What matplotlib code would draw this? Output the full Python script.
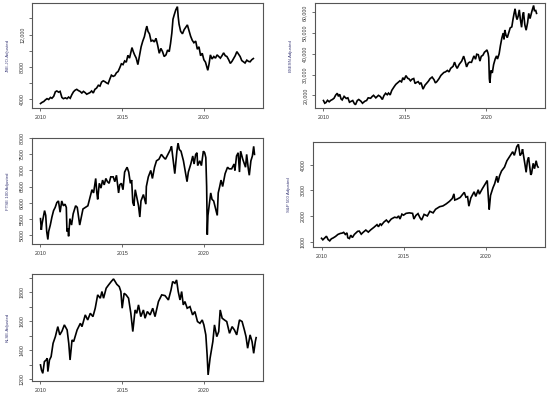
import matplotlib
matplotlib.use("Agg")
import matplotlib.pyplot as plt

plt.rcParams['font.family'] = ['Liberation Sans', 'DejaVu Sans']

# ---------------- data (decimal year, adjusted close) ----------------
jse = [(2010.00, 3500),(2010.10, 3650),(2010.20, 3750),(2010.30, 3950),(2010.40, 4100),(2010.50, 4000),
       (2010.61, 4250),(2010.70, 4150),(2010.81, 4400),(2010.91, 4950),(2011.00, 5050),(2011.11, 4900),
       (2011.20, 5000),(2011.31, 4250),(2011.40, 4100),(2011.52, 4200),(2011.62, 4100),(2011.72, 4300),
       (2011.82, 4150),(2011.92, 4600),(2012.02, 4950),(2012.12, 5150),(2012.22, 5250),(2012.32, 5100),
       (2012.42, 5000),(2012.53, 4800),(2012.63, 5000),(2012.73, 4850),(2012.83, 4650),(2012.93, 4750),
       (2013.03, 4850),(2013.13, 5050),(2013.23, 4800),(2013.33, 5250),(2013.43, 5400),(2013.54, 5750),
       (2013.64, 5650),(2013.74, 6150),(2013.84, 6300),(2013.94, 6200),(2014.04, 6050),(2014.14, 5950),
       (2014.24, 6500),(2014.34, 7000),(2014.45, 6850),(2014.55, 6950),(2014.65, 7300),(2014.75, 7450),
       (2014.85, 7900),(2014.95, 8400),(2015.05, 8300),(2015.15, 8750),(2015.25, 8600),(2015.35, 9450),
       (2015.45, 9100),(2015.52, 9700),(2015.60, 10400),(2015.68, 9900),(2015.76, 9500),(2015.86, 9100),
       (2015.96, 8300),(2016.06, 9400),(2016.16, 10500),(2016.26, 11200),(2016.36, 11750),(2016.45, 12600),
       (2016.51, 13050),(2016.58, 12400),(2016.67, 12100),(2016.77, 11200),(2016.87, 11300),(2016.97, 11100),
       (2017.07, 11550),(2017.17, 10700),(2017.27, 9700),(2017.37, 10300),(2017.47, 9900),(2017.57, 9300),
       (2017.68, 9500),(2017.78, 10100),(2017.88, 9900),(2017.96, 10900),(2018.04, 12200),(2018.11, 13900),
       (2018.18, 14400),(2018.28, 15050),(2018.38, 15450),(2018.43, 14200),(2018.48, 13300),(2018.58, 12400),
       (2018.69, 12100),(2018.79, 12600),(2018.89, 12900),(2018.99, 13200),(2019.09, 12500),(2019.19, 11800),
       (2019.29, 11300),(2019.39, 11000),(2019.50, 11200),(2019.60, 10200),(2019.70, 10500),(2019.80, 9400),
       (2019.90, 9700),(2020.00, 8900),(2020.10, 8600),(2020.18, 8000),(2020.24, 7600),(2020.32, 8400),
       (2020.40, 9500),(2020.50, 9000),(2020.61, 9300),(2020.71, 9100),(2020.81, 9500),(2020.91, 9300),
       (2021.01, 9100),(2021.11, 9400),(2021.21, 9750),(2021.31, 9400),(2021.41, 9300),(2021.52, 8900),
       (2021.62, 8450),(2021.72, 8700),(2021.82, 9050),(2021.92, 9400),(2022.02, 9900),(2022.12, 9600),
       (2022.22, 9300),(2022.32, 8800),(2022.42, 8650),(2022.52, 8500),(2022.63, 8850),(2022.73, 8700),
       (2022.83, 8650),(2022.93, 8900),(2023.03, 9050)]

bse = [(2010.00, 17500),(2010.08, 16200),(2010.15, 16500),(2010.25, 17600),(2010.35, 16900),(2010.45, 17600),
       (2010.55, 18000),(2010.65, 18600),(2010.75, 20100),(2010.85, 21000),(2010.92, 19500),(2011.00, 20500),
       (2011.08, 18300),(2011.15, 17800),(2011.27, 19500),(2011.40, 18500),(2011.50, 18800),(2011.60, 16700),
       (2011.70, 17100),(2011.80, 17500),(2011.90, 16000),(2011.97, 15500),(2012.08, 17500),(2012.17, 18000),
       (2012.30, 17200),(2012.40, 16200),(2012.55, 17200),(2012.65, 17500),(2012.75, 18800),(2012.90, 18600),
       (2013.00, 19500),(2013.08, 20000),(2013.22, 18800),(2013.38, 20000),(2013.50, 19400),(2013.62, 18000),
       (2013.72, 19900),(2013.82, 21000),(2013.92, 20300),(2014.00, 21100),(2014.10, 20200),(2014.20, 22400),
       (2014.35, 24200),(2014.45, 25300),(2014.55, 26000),(2014.70, 27000),(2014.80, 26500),(2014.88, 28500),
       (2014.96, 27500),(2015.07, 29500),(2015.18, 28200),(2015.25, 28000),(2015.35, 27000),(2015.45, 27800),
       (2015.55, 28100),(2015.63, 25700),(2015.72, 26200),(2015.82, 26600),(2015.92, 25500),(2016.00, 26100),
       (2016.12, 23000),(2016.25, 25000),(2016.32, 25600),(2016.45, 26800),(2016.55, 28000),(2016.68, 28800),
       (2016.80, 27500),(2016.88, 26000),(2016.97, 26600),(2017.10, 28000),(2017.22, 29600),(2017.40, 31000),
       (2017.50, 31300),(2017.62, 32000),(2017.72, 31300),(2017.82, 33000),(2017.97, 34000),(2018.06, 36000),
       (2018.15, 34000),(2018.22, 33000),(2018.35, 35000),(2018.50, 36500),(2018.62, 38900),(2018.70, 36800),
       (2018.80, 33700),(2018.90, 35500),(2018.98, 36000),(2019.10, 35900),(2019.25, 39000),(2019.35, 37400),
       (2019.42, 39800),(2019.52, 39600),(2019.62, 36500),(2019.70, 38800),(2019.80, 39300),(2019.90, 40800),
       (2019.98, 41300),(2020.05, 41900),(2020.12, 40200),(2020.16, 38300),(2020.20, 28000),(2020.23, 26000),
       (2020.30, 32000),(2020.38, 30800),(2020.46, 34800),(2020.56, 37600),(2020.64, 39000),(2020.70, 37500),
       (2020.80, 40000),(2020.88, 44000),(2020.97, 47700),(2021.05, 50000),(2021.10, 47000),(2021.15, 51500),
       (2021.22, 49000),(2021.30, 47800),(2021.40, 50500),(2021.48, 52500),(2021.58, 53000),(2021.65, 56500),
       (2021.72, 59500),(2021.78, 61700),(2021.85, 58000),(2021.90, 56500),(2021.97, 58200),(2022.04, 61200),
       (2022.10, 57000),(2022.18, 52800),(2022.25, 58500),(2022.30, 60000),(2022.38, 54000),(2022.46, 51400),
       (2022.55, 55000),(2022.62, 59500),(2022.70, 57000),(2022.75, 58500),(2022.82, 60700),(2022.92, 63300),
       (2022.97, 60800),(2023.05, 60900),(2023.10, 59500)]

ftse = [(2010.00, 5500),(2010.05, 5150),(2010.10, 5350),(2010.25, 5750),(2010.32, 5600),(2010.38, 5100),
        (2010.45, 4850),(2010.50, 5100),(2010.60, 5300),(2010.70, 5550),(2010.80, 5750),(2010.90, 5850),
        (2011.00, 6000),(2011.10, 6050),(2011.20, 5700),(2011.30, 6050),(2011.40, 5900),(2011.50, 5950),
        (2011.58, 5850),(2011.62, 5100),(2011.68, 5200),(2011.72, 4950),(2011.80, 5500),(2011.90, 5300),
        (2012.00, 5650),(2012.15, 5900),(2012.25, 5850),(2012.40, 5300),(2012.50, 5550),(2012.60, 5800),
        (2012.75, 5850),(2012.90, 5900),(2013.00, 6100),(2013.15, 6400),(2013.25, 6300),(2013.38, 6750),
        (2013.45, 6300),(2013.50, 6100),(2013.60, 6600),(2013.70, 6450),(2013.80, 6700),(2013.90, 6550),
        (2014.00, 6750),(2014.10, 6650),(2014.20, 6600),(2014.30, 6800),(2014.45, 6800),(2014.55, 6650),
        (2014.65, 6850),(2014.78, 6300),(2014.85, 6550),(2014.95, 6600),(2015.05, 6400),(2015.15, 6950),
        (2015.30, 7100),(2015.40, 6950),(2015.50, 6600),(2015.58, 6700),(2015.65, 6000),(2015.72, 5900),
        (2015.80, 6400),(2015.92, 6100),(2016.00, 5900),(2016.08, 5550),(2016.15, 6050),(2016.30, 6250),
        (2016.45, 5950),(2016.48, 6500),(2016.60, 6800),(2016.75, 7000),(2016.85, 6750),(2016.98, 7100),
        (2017.10, 7300),(2017.25, 7350),(2017.40, 7500),(2017.55, 7400),(2017.65, 7350),(2017.80, 7500),
        (2017.95, 7650),(2018.02, 7750),(2018.15, 7200),(2018.22, 6900),(2018.35, 7600),(2018.42, 7850),
        (2018.50, 7650),(2018.60, 7600),(2018.75, 7300),(2018.85, 7000),(2018.97, 6650),(2019.05, 6950),
        (2019.20, 7200),(2019.32, 7450),(2019.40, 7200),(2019.50, 7500),(2019.58, 7550),(2019.62, 7150),
        (2019.75, 7300),(2019.85, 7150),(2019.97, 7600),(2020.05, 7550),(2020.12, 7400),(2020.17, 6500),
        (2020.21, 5000),(2020.25, 5600),(2020.30, 5800),(2020.42, 6300),(2020.50, 6100),(2020.60, 6050),
        (2020.72, 5800),(2020.82, 5600),(2020.88, 6300),(2020.97, 6500),(2021.05, 6700),(2021.15, 6500),
        (2021.30, 6900),(2021.45, 7100),(2021.55, 7050),(2021.70, 7050),(2021.85, 7200),(2021.90, 7000),
        (2022.00, 7450),(2022.10, 7550),(2022.18, 6950),(2022.25, 7600),(2022.38, 7350),(2022.48, 7200),
        (2022.55, 7100),(2022.62, 7500),(2022.72, 7050),(2022.78, 6850),(2022.88, 7300),(2022.97, 7450),
        (2023.05, 7750),(2023.10, 7500)]

sp500 = [(2010.00, 1130),(2010.08, 1070),(2010.30, 1210),(2010.40, 1080),(2010.50, 1030),(2010.60, 1110),
         (2010.70, 1140),(2010.85, 1200),(2011.00, 1280),(2011.15, 1320),(2011.25, 1330),(2011.35, 1360),
         (2011.45, 1280),(2011.55, 1340),(2011.60, 1150),(2011.70, 1120),(2011.78, 1250),(2011.88, 1160),
         (2012.00, 1280),(2012.20, 1400),(2012.30, 1410),(2012.42, 1290),(2012.55, 1370),(2012.70, 1450),
         (2012.85, 1370),(2013.00, 1460),(2013.20, 1560),(2013.38, 1660),(2013.47, 1580),(2013.58, 1700),
         (2013.65, 1640),(2013.80, 1760),(2013.95, 1840),(2014.08, 1750),(2014.25, 1880),(2014.45, 1950),
         (2014.60, 1930),(2014.70, 2000),(2014.78, 1880),(2014.90, 2070),(2015.00, 2030),(2015.15, 2100),
         (2015.35, 2120),(2015.55, 2100),(2015.63, 1880),(2015.75, 2020),(2015.88, 2090),(2016.00, 1930),
         (2016.10, 1840),(2016.25, 2060),(2016.45, 2000),(2016.60, 2180),(2016.80, 2120),(2016.95, 2260),
         (2017.20, 2360),(2017.40, 2390),(2017.60, 2470),(2017.80, 2570),(2017.97, 2680),(2018.07, 2860),
         (2018.12, 2620),(2018.25, 2650),(2018.45, 2720),(2018.70, 2920),(2018.80, 2730),(2018.90, 2750),
         (2018.98, 2380),(2019.10, 2700),(2019.30, 2940),(2019.40, 2760),(2019.55, 3020),(2019.62, 2850),
         (2019.80, 3060),(2019.97, 3240),(2020.10, 3380),(2020.18, 2600),(2020.22, 2250),(2020.30, 2800),
         (2020.45, 3100),(2020.55, 3250),(2020.68, 3550),(2020.75, 3300),(2020.85, 3560),(2020.97, 3750),
         (2021.15, 3900),(2021.30, 4150),(2021.50, 4350),(2021.65, 4500),(2021.75, 4360),(2021.90, 4700),
         (2022.00, 4790),(2022.10, 4350),(2022.20, 4450),(2022.25, 4600),(2022.40, 4000),(2022.47, 3700),
         (2022.55, 4150),(2022.62, 4280),(2022.75, 3600),(2022.80, 3650),(2022.90, 4050),(2022.98, 3840),
         (2023.08, 4150),(2023.15, 3950),(2023.20, 3900)]

klse = [(2010.00, 1299),(2010.06, 1264),(2010.14, 1241),(2010.24, 1322),(2010.35, 1333),(2010.41, 1345),
        (2010.45, 1253),(2010.55, 1333),(2010.65, 1356),(2010.77, 1448),(2010.91, 1494),(2011.06, 1563),
        (2011.18, 1506),(2011.32, 1533),(2011.46, 1575),(2011.63, 1540),(2011.73, 1448),(2011.81, 1333),
        (2011.93, 1471),(2012.03, 1460),(2012.24, 1540),(2012.44, 1586),(2012.54, 1563),(2012.74, 1644),
        (2012.89, 1609),(2013.05, 1655),(2013.21, 1632),(2013.35, 1690),(2013.50, 1782),(2013.66, 1759),
        (2013.76, 1805),(2013.86, 1759),(2014.02, 1828),(2014.17, 1851),(2014.33, 1874),(2014.47, 1892),
        (2014.57, 1874),(2014.67, 1855),(2014.82, 1839),(2014.92, 1805),(2015.00, 1690),(2015.12, 1793),
        (2015.24, 1782),(2015.39, 1759),(2015.53, 1655),(2015.65, 1529),(2015.79, 1678),(2015.89, 1655),
        (2016.00, 1713),(2016.14, 1632),(2016.30, 1678),(2016.40, 1621),(2016.54, 1667),(2016.71, 1644),
        (2016.87, 1690),(2017.01, 1632),(2017.22, 1736),(2017.42, 1782),(2017.62, 1777),(2017.83, 1747),
        (2017.99, 1816),(2018.09, 1874),(2018.23, 1862),(2018.33, 1885),(2018.43, 1805),(2018.54, 1747),
        (2018.64, 1805),(2018.74, 1713),(2018.84, 1736),(2018.98, 1690),(2019.15, 1701),(2019.31, 1644),
        (2019.45, 1667),(2019.61, 1598),(2019.76, 1586),(2019.90, 1609),(2020.00, 1575),(2020.12, 1506),
        (2020.20, 1368),(2020.26, 1230),(2020.38, 1345),(2020.55, 1460),(2020.65, 1575),(2020.79, 1494),
        (2020.91, 1529),(2021.00, 1678),(2021.12, 1621),(2021.26, 1609),(2021.40, 1598),(2021.57, 1517),
        (2021.73, 1563),(2021.87, 1540),(2022.01, 1506),(2022.18, 1609),(2022.34, 1598),(2022.48, 1540),
        (2022.58, 1494),(2022.68, 1414),(2022.83, 1506),(2022.95, 1460),(2023.05, 1379),(2023.15, 1460),
        (2023.20, 1487)]

x_ticks = [2010, 2015, 2020]
x_labels = ["2010", "2015", "2020"]

jse_yticks = [4000, 6000, 8000, 10000, 12000, 14000]
jse_ylabels = ["4000", "", "8000", "", "12,000", ""]
bse_yticks = [20000, 30000, 40000, 50000, 60000]
bse_ylabels = ["20,000", "30,000", "40,000", "50,000", "60,000"]
ftse_yticks = [5000, 5500, 6000, 6500, 7000, 7500, 8000]
ftse_ylabels = ["5000", "5500", "6000", "6500", "7000", "7500", "8000"]
sp_yticks = [1000, 2000, 3000, 4000]
sp_ylabels = ["1000", "2000", "3000", "4000"]
klse_yticks = [1200, 1300, 1400, 1500, 1600, 1700, 1800, 1900]
klse_ylabels = ["1200", "", "1400", "", "1600", "", "1800", ""]

# ---------------- layout ----------------
W, H = 550, 395
fig = plt.figure(figsize=(W / 100, H / 100), dpi=100)

panels = [
    (jse, "JSE.JO.Adjusted", (32, 3, 263, 108), (2950, 15900), jse_yticks, jse_ylabels),
    (bse, "BSESN.Adjusted", (315, 3, 545, 108), (13900, 64500), bse_yticks, bse_ylabels),
    (ftse, "FTSE 100 Adjusted", (32, 138, 263, 244), (4710, 8010), ftse_yticks, ftse_ylabels),
    (sp500, "S&P 500 Adjusted", (313, 142, 545, 247), (790, 4880), sp_yticks, sp_ylabels),
    (klse, "KLSE.Adjusted", (32, 274, 263, 381), (1188, 1926), klse_yticks, klse_ylabels),
]

frame_col = "#555555"
text_col = "#333333"
label_col = "#3d3d7a"

for series, name, (l, t, r, b), ylim, yt, yl in panels:
    ax = fig.add_axes([l / W, 1 - b / H, (r - l) / W, (b - t) / H])
    xs = [p[0] for p in series]
    ys = [p[1] for p in series]
    ax.plot(xs, ys, color="black", lw=1.2, solid_joinstyle="miter")
    ax.set_xlim(2009.48, 2023.62)
    ax.set_ylim(*ylim)
    ax.set_xticks(x_ticks)
    ax.set_xticklabels(x_labels)
    ax.set_yticks(yt)
    ax.set_yticklabels(yl)
    for s in ax.spines.values():
        s.set_color(frame_col)
        s.set_linewidth(0.8)
    ax.tick_params(axis="both", length=2.2, width=0.6, color=frame_col,
                   labelsize=3.8, labelcolor=text_col)
    ax.tick_params(axis="x", pad=3.0)
    ax.tick_params(axis="y", pad=3.2)
    for lab in ax.get_yticklabels():
        lab.set_rotation(90)
        lab.set_va("center")
        lab.set_ha("right")
    ax.set_ylabel(name, fontsize=3.2, color=label_col)
    ax.yaxis.set_label_coords(-22 / (r - l), 0.5)

fig.savefig("out.png", dpi=100)
